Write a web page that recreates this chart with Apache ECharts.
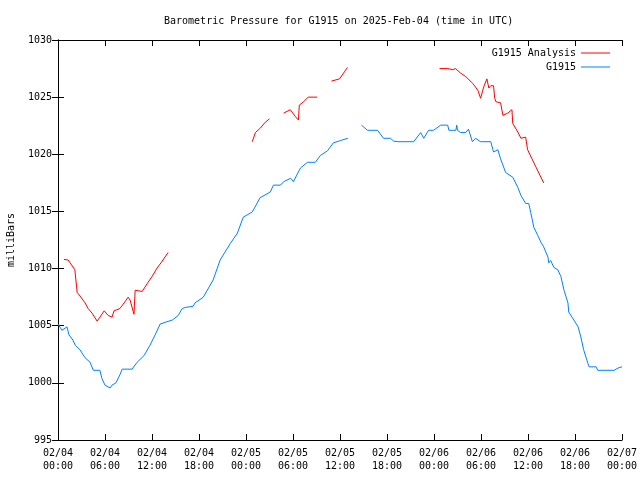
<!DOCTYPE html>
<html>
<head>
<meta charset="utf-8">
<script src="https://cdn.jsdelivr.net/npm/echarts@6/dist/echarts.min.js"></script>
<style>html,body{margin:0;padding:0;background:#fff}#c{width:640px;height:480px}</style>
</head>
<body>
<div id="c"></div>
<script>
// hours since 2025-02-04 00:00 UTC, pressure in millibars (null = gap)
var blueHours = [0.0,0.5,1.15,1.4,1.9,2.2,2.8,3.45,4.1,4.5,5.35,5.6,6.0,6.65,6.9,7.4,7.9,8.2,9.45,10.1,11.0,11.75,12.4,13.05,13.7,14.6,15.35,15.85,16.25,17.25,17.5,18.55,19.8,20.7,22.0,22.9,23.65,24.8,25.8,27.1,27.5,28.4,28.8,29.7,30.05,30.95,31.85,32.85,33.5,34.4,35.15,36.05,37.0,38.0,38.75,39.5,40.8,41.55,42.45,42.85,43.5,45.4,46.3,46.7,47.3,47.95,48.85,49.75,49.9,50.8,50.9,51.0,51.4,52.05,52.4,52.9,53.3,53.95,55.25,55.6,56.15,56.5,57.15,58.05,58.7,59.1,59.7,60.1,60.35,60.75,61.25,61.65,62.0,62.55,62.65,62.9,63.3,63.8,64.2,64.6,65.1,65.2,65.85,66.4,66.75,67.1,67.65,67.8,68.7,68.9,71.0,71.5,72.0];
var blueValues = [1005.15,1004.6,1004.9,1004.2,1003.75,1003.3,1002.9,1002.2,1001.8,1001.1,1001.1,1000.4,999.8,999.55,999.8,1000.0,1000.7,1001.2,1001.2,1001.8,1002.4,1003.3,1004.2,1005.15,1005.3,1005.5,1005.9,1006.5,1006.6,1006.7,1007.0,1007.5,1009.0,1010.75,1012.2,1013.1,1014.5,1014.95,1016.2,1016.7,1017.3,1017.3,1017.6,1017.9,1017.6,1018.8,1019.3,1019.3,1019.9,1020.3,1021.0,1021.2,1021.4,null,1022.55,1022.1,1022.1,1021.4,1021.4,1021.15,1021.1,1021.1,1021.9,1021.4,1022.1,1022.1,1022.55,1022.55,1022.1,1022.1,1022.55,1022.1,1021.9,1021.9,1022.2,1021.1,1021.4,1021.1,1021.1,1020.2,1020.4,1019.6,1018.4,1018.0,1017.1,1016.4,1015.7,1015.7,1014.9,1013.6,1012.9,1012.3,1011.9,1011.0,1010.5,1010.7,1010.1,1009.9,1009.3,1008.1,1007.0,1006.2,1005.5,1004.9,1004.0,1002.9,1001.7,1001.4,1001.4,1001.1,1001.1,1001.3,1001.4];

var redHours = [0.75,1.3,1.65,2.15,2.3,2.45,2.7,3.45,3.85,4.35,5.0,5.35,5.9,6.4,6.9,7.15,7.9,8.55,8.95,9.2,9.7,9.85,10.75,11.4,12.0,12.65,13.15,14.05,19.0,24.8,25.2,25.85,26.45,27.0,28.0,28.8,29.0,29.65,30.3,30.7,30.8,31.35,31.95,33.1,34.0,34.9,35.95,36.45,36.95,42.0,48.7,49.75,50.4,50.75,51.4,52.05,52.95,53.6,53.95,54.35,54.75,55.0,55.25,55.6,55.75,55.9,56.5,56.8,57.4,57.95,58.05,58.7,59.1,59.7,59.95,61.0,62.0];
var redValues = [1010.8,1010.75,1010.4,1009.9,1009.9,1007.9,1007.7,1007.0,1006.5,1006.1,1005.4,1005.75,1006.3,1005.9,1005.75,1006.3,1006.5,1007.1,1007.5,1007.25,1006.0,1008.1,1008.0,1008.7,1009.3,1010.05,1010.5,1011.4,null,1021.1,1021.9,1022.3,1022.8,1023.1,null,1023.6,1023.6,1023.9,1023.3,1023.0,1024.3,1024.6,1025.0,1025.0,null,1026.4,1026.6,1027.1,1027.6,null,1027.5,1027.5,1027.4,1027.5,1027.1,1026.8,1026.2,1025.6,1024.9,1025.9,1026.6,1025.8,1026.0,1026.0,1024.9,1024.6,1024.5,1023.4,1023.6,1023.9,1022.7,1021.95,1021.4,1021.5,1020.4,1018.9,1017.5];

var xTickLabels = ["02/04\n00:00","02/04\n06:00","02/04\n12:00","02/04\n18:00","02/05\n00:00","02/05\n06:00","02/05\n12:00","02/05\n18:00","02/06\n00:00","02/06\n06:00","02/06\n12:00","02/06\n18:00","02/07\n00:00"];
var seriesNames = ["G1915 Analysis","G1915"];
var titleText = "Barometric Pressure for G1915 on 2025-Feb-04 (time in UTC)";
var yName = "milliBars";

function pairs(h, v){ return h.map(function(x,i){ return [x, v[i] === null ? '-' : v[i]]; }); }

var font = "'DejaVu Sans Mono', 'Liberation Mono', monospace";
var fs = 10;
var chart = echarts.init(document.getElementById('c'), null, {renderer:'canvas'});
var axisLine = {show:true, lineStyle:{color:'#000', width:1}};
var tick = {show:true, inside:true, length:6, lineStyle:{color:'#000'}};
var legendText = {fontFamily:font, fontSize:fs, color:'#000'};
chart.setOption({
  animation:false,
  backgroundColor:'#fff',
  textStyle:{fontFamily:font},
  title:{text:titleText, left:159, top:11, textStyle:{fontFamily:font, fontSize:fs, fontWeight:'normal', color:'#000'}},
  legend:[
    {data:[seriesNames[0]], right:25, top:43, orient:'vertical', align:'right', icon:'rect', itemWidth:29, itemHeight:1, itemGap:0, textStyle:legendText},
    {data:[seriesNames[1]], right:25, top:57, orient:'vertical', align:'right', icon:'rect', itemWidth:29, itemHeight:1, itemGap:0, textStyle:legendText}
  ],
  grid:{left:58, right:18, top:40, bottom:40, containLabel:false, outerBoundsMode:'none'},
  xAxis:[
    {type:'value', min:0, max:72, interval:6, axisLine:axisLine, axisTick:tick, splitLine:{show:false},
     axisLabel:{color:'#000', fontFamily:font, fontSize:fs, lineHeight:13, margin:7, formatter:function(v){ return xTickLabels[Math.round(v/6)]; }}},
    {type:'value', position:'top', min:0, max:72, interval:6, axisLine:axisLine, axisTick:tick, axisLabel:{show:false}, splitLine:{show:false}}
  ],
  yAxis:[
    {type:'value', min:995, max:1030, interval:5, axisLine:axisLine, axisTick:tick, splitLine:{show:false},
     axisLabel:{color:'#000', fontFamily:font, fontSize:fs, margin:6, formatter:function(v){ return String(v); }},
     name:yName, nameLocation:'middle', nameGap:42, nameRotate:90, nameTextStyle:{color:'#000', fontFamily:font, fontSize:fs}},
    {type:'value', position:'right', min:995, max:1030, interval:5, axisLine:axisLine, axisTick:tick, axisLabel:{show:false}, splitLine:{show:false}}
  ],
  series:[
    {name:seriesNames[0], type:'line', data:pairs(redHours, redValues), showSymbol:false, symbol:'none', connectNulls:false, color:'#ff0000', lineStyle:{width:1, color:'#ff0000'}},
    {name:seriesNames[1], type:'line', data:pairs(blueHours, blueValues), showSymbol:false, symbol:'none', connectNulls:false, color:'#0080ff', lineStyle:{width:1, color:'#0080ff'}}
  ]
});
</script>
</body>
</html>
